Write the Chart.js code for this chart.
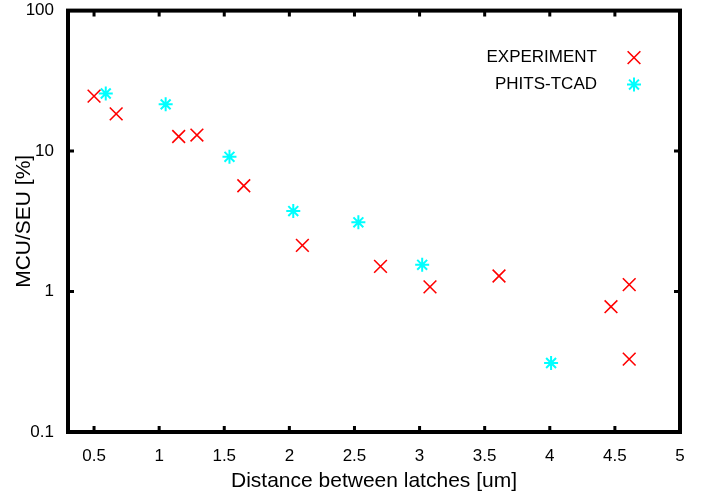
<!DOCTYPE html>
<html>
<head>
<meta charset="utf-8">
<script src="https://cdn.jsdelivr.net/npm/chart.js@4.4.1/dist/chart.umd.min.js"></script>
<style>
  html, body { margin: 0; padding: 0; background: #fff; }
  #wrap { width: 707px; height: 494px; }
</style>
</head>
<body>
<div id="wrap"><canvas id="chart"></canvas></div>
<script>
// Data
const expX = [0.50, 0.67, 1.15, 1.29, 1.65, 2.10, 2.70, 3.08, 3.61, 4.47, 4.61, 4.61];
const expY = [24.6, 18.4, 12.7, 13.0, 5.66, 2.13, 1.51, 1.08, 1.29, 0.78, 1.12, 0.33];
const simX = [0.59, 1.05, 1.54, 2.03, 2.53, 3.02, 4.01];
const simY = [25.7, 21.5, 9.1, 3.74, 3.11, 1.55, 0.31];

const xTicks = [0.5, 1, 1.5, 2, 2.5, 3, 3.5, 4, 4.5, 5];
const yTicks = [0.1, 1, 10, 100];

const FONT = "'Liberation Sans', Arial, Helvetica, sans-serif";

function toPoints(xs, ys) {
    return xs.map(function(x, i) { return { x: x, y: ys[i] }; });
}

// frame + inward tick marks on all four sides
const framePlugin = {
    id: 'frame',
    afterDatasetsDraw: function(chart) {
        const ctx = chart.ctx;
        const a = chart.chartArea;
        const xs = chart.scales.x;
        const ys = chart.scales.y;
        ctx.save();
        ctx.strokeStyle = '#000';
        ctx.lineWidth = 3;
        xTicks.forEach(function(v) {
            const px = xs.getPixelForValue(v);
            ctx.beginPath();
            ctx.moveTo(px, a.bottom); ctx.lineTo(px, a.bottom - 6);
            ctx.moveTo(px, a.top); ctx.lineTo(px, a.top + 6);
            ctx.stroke();
        });
        yTicks.forEach(function(v) {
            const py = ys.getPixelForValue(v);
            ctx.beginPath();
            ctx.moveTo(a.left, py); ctx.lineTo(a.left + 6, py);
            ctx.moveTo(a.right, py); ctx.lineTo(a.right - 6, py);
            ctx.stroke();
        });
        ctx.lineWidth = 4;
        ctx.strokeRect(a.left, a.top, a.right - a.left, a.bottom - a.top);
        ctx.restore();
    }
};

// gnuplot style key: right aligned text, marker on the right
const keyPlugin = {
    id: 'key',
    afterDatasetsDraw: function(chart) {
        const ctx = chart.ctx;
        const a = chart.chartArea;
        ctx.save();
        ctx.font = '17px ' + FONT;
        ctx.fillStyle = '#000';
        ctx.textAlign = 'right';
        ctx.textBaseline = 'middle';
        chart.data.datasets.forEach(function(ds, i) {
            const y = a.top + 47 + i * 27;
            ctx.fillText(ds.label, a.right - 83, y);
            ctx.strokeStyle = ds.borderColor;
            ctx.lineWidth = ds.borderWidth;
            Chart.helpers.drawPoint(ctx, {
                pointStyle: ds.pointStyle,
                radius: ds.pointRadius,
                borderWidth: ds.borderWidth,
                rotation: 0
            }, a.right - 46, y);
        });
        ctx.restore();
    }
};

new Chart(document.getElementById('chart'), {
    type: 'scatter',
    data: {
        datasets: [{
            label: 'EXPERIMENT',
            data: toPoints(expX, expY),
            pointStyle: 'crossRot',
            pointRadius: 9,
            borderColor: '#ff0000',
            backgroundColor: '#ff0000',
            borderWidth: 1.6
        }, {
            label: 'PHITS-TCAD',
            data: toPoints(simX, simY),
            pointStyle: 'star',
            pointRadius: 7,
            borderColor: '#00ffff',
            backgroundColor: '#00ffff',
            borderWidth: 2
        }]
    },
    options: {
        responsive: true,
        maintainAspectRatio: false,
        animation: false,
        events: [],
        layout: { padding: { left: 0, top: 9, right: 27, bottom: 0 } },
        plugins: {
            legend: { display: false },
            tooltip: { enabled: false }
        },
        scales: {
            x: {
                type: 'linear',
                min: 0.3,
                max: 5,
                grid: { display: false },
                border: { display: false },
                ticks: {
                    padding: 6,
                    color: '#000',
                    font: { family: FONT, size: 17 },
                    maxRotation: 0,
                    callback: function(v) { return String(v); }
                },
                afterBuildTicks: function(scale) {
                    scale.ticks = xTicks.map(function(v) { return { value: v }; });
                },
                afterFit: function(scale) {
                    scale.height = 62;
                    scale.paddingLeft = 0;
                    scale.paddingRight = 0;
                },
                title: {
                    display: true,
                    text: 'Distance between latches [um]',
                    color: '#000',
                    font: { family: FONT, size: 21 },
                    padding: { top: 0, bottom: 0 }
                }
            },
            y: {
                type: 'logarithmic',
                min: 0.1,
                max: 100,
                grid: { display: false },
                border: { display: false },
                ticks: {
                    padding: 6,
                    color: '#000',
                    font: { family: FONT, size: 17 },
                    callback: function(v) { return String(v); }
                },
                afterBuildTicks: function(scale) {
                    scale.ticks = yTicks.map(function(v) { return { value: v }; });
                },
                afterFit: function(scale) {
                    scale.width = 68;
                    scale.paddingTop = 0;
                    scale.paddingBottom = 0;
                },
                title: {
                    display: true,
                    text: 'MCU/SEU [%]',
                    color: '#000',
                    font: { family: FONT, size: 21 },
                    padding: { top: 12, bottom: 0 }
                }
            }
        }
    },
    plugins: [framePlugin, keyPlugin]
});
</script>
</body>
</html>
